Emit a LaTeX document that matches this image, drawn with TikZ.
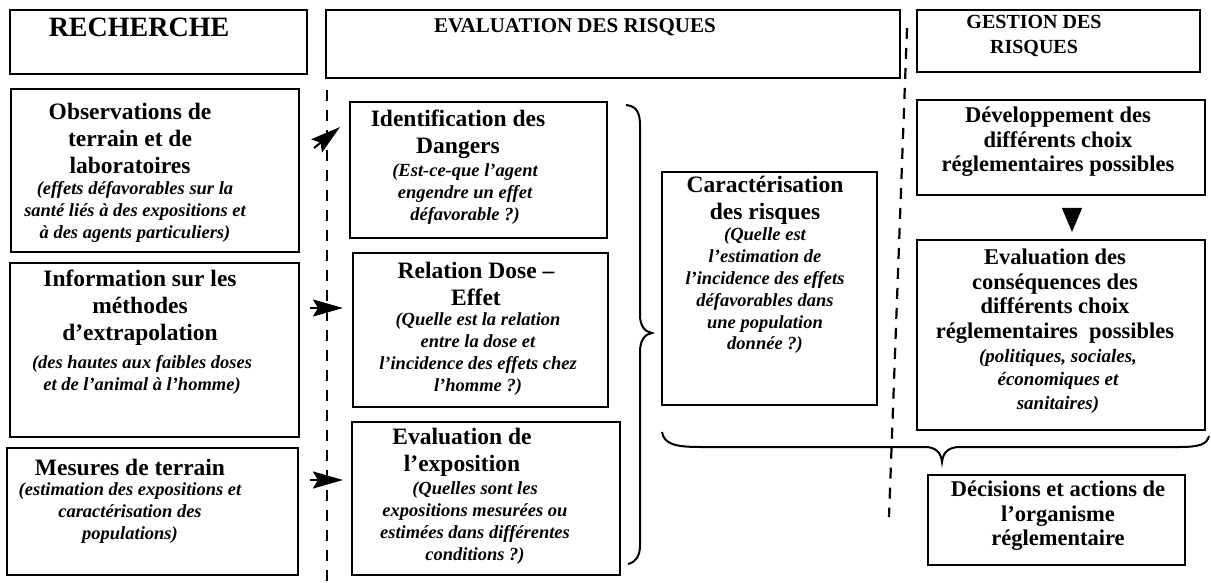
\documentclass[tikz,border=0pt]{standalone}
\usepackage{fontspec}
\setmainfont{Liberation Serif}
\usetikzlibrary{arrows.meta}
\begin{document}
\begin{tikzpicture}[x=1pt,y=-1pt,
  box/.style={draw, line width=2pt, inner sep=0pt},
  ttl/.style={font=\bfseries\fontsize{23.5}{27}\selectfont, align=center, inner sep=0pt},
  ttlr/.style={font=\bfseries\fontsize{22.5}{24.5}\selectfont, align=center, inner sep=0pt},
  note/.style={font=\bfseries\itshape\fontsize{18.5}{21.8}\selectfont, align=center, inner sep=0pt},
  noter/.style={font=\bfseries\itshape\fontsize{19}{23.5}\selectfont, align=center, inner sep=0pt},
  sep/.style={line width=2.2pt, dash pattern=on 11pt off 9pt},
  bracestyle/.style={line width=2pt},
  tipstyle/.style={-{Stealth[length=30pt,width=17pt,inset=5pt]}, line width=2pt},
  tristyle/.style={-{Triangle[length=24pt,width=20pt]}, line width=1pt}]
\useasboundingbox (0,0) rectangle (1211,583);
\fill[white] (0,0) rectangle (1211,583);
% headers
\node[box, minimum width=297pt, minimum height=64pt] (h1) at (158.5,42) {};
\node[box, minimum width=574pt, minimum height=68pt] (h2) at (613,44) {};
\node[box, minimum width=283pt, minimum height=62pt] (h3) at (1058.5,41) {};
\node[font=\bfseries\fontsize{28}{32}\selectfont, inner sep=0pt] (h1t) at (139,27) {RECHERCHE};
\node[font=\bfseries\fontsize{21}{25}\selectfont, inner sep=0pt] (h2t) at (575,27) {EVALUATION DES RISQUES};
\node[font=\bfseries\fontsize{20}{25}\selectfont, align=center, inner sep=0pt] (h3t) at (1034,36) {GESTION DES\\RISQUES};
% left column
\node[box, minimum width=288pt, minimum height=163pt] (b1) at (155,170.5) {};
\node[box, minimum width=289pt, minimum height=174pt] (b2) at (154.5,350) {};
\node[box, minimum width=291pt, minimum height=127pt] (b3) at (152.5,511.5) {};
\node[ttl] (b1t) at (130,138) {Observations de\\terrain et de\\laboratoires};
\node[note] (b1n) at (135,212) {(effets défavorables sur la\\santé liés à des expositions et\\à des agents particuliers)};
\node[ttl] (b2t) at (140,308) {Information sur les\\méthodes\\d’extrapolation};
\node[note] (b2n) at (142,375) {(des hautes aux faibles doses\\et de l’animal à l’homme)};
\node[ttl] (b3t) at (130,467) {Mesures de terrain};
\node[note] (b3n) at (130,513) {(estimation des expositions et\\caractérisation des\\populations)};
% middle column
\node[box, minimum width=257pt, minimum height=136pt] (m1) at (478.5,170) {};
\node[box, minimum width=255pt, minimum height=154pt] (m2) at (480.5,330) {};
\node[box, minimum width=268pt, minimum height=153pt] (m3) at (486,498.5) {};
\node[ttl] (m1t) at (458,134) {Identification des\\Dangers};
\node[note] (m1n) at (465,194) {(Est-ce-que l’agent\\engendre un effet\\défavorable ?)};
\node[ttl] (m2t) at (476,284) {Relation Dose –\\Effet};
\node[note] (m2n) at (478,354) {(Quelle est la relation\\entre la dose et\\l’incidence des effets chez\\l’homme ?)};
\node[ttl] (m3t) at (462,452) {Evaluation de\\l’exposition};
\node[note] (m3n) at (475,523) {(Quelles sont les\\expositions mesurées ou\\estimées dans différentes\\conditions ?)};
% characterisation
\node[box, minimum width=215pt, minimum height=233pt] (c) at (769.5,288.5) {};
\node[ttl] (ct) at (765,200) {Caractérisation\\des risques};
\node[note] (cn) at (765,291) {(Quelle est\\l’estimation de\\l’incidence des effets\\défavorables dans\\une population\\donnée ?)};
% right column
\node[box, minimum width=288pt, minimum height=95pt] (r1) at (1061,147.5) {};
\node[box, minimum width=288pt, minimum height=190pt] (r2) at (1061,335) {};
\node[box, minimum width=257pt, minimum height=90pt] (r3) at (1056.5,520) {};
\node[ttlr] (r1t) at (1058,142) {Développement des\\différents choix\\réglementaires possibles};
\node[ttlr] (r2t) at (1055,296) {Evaluation des\\conséquences des\\différents choix\\réglementaires\ \ possibles};
\node[noter] (r2n) at (1058,381) {(politiques, sociales,\\économiques et\\sanitaires)};
\node[ttlr] (r3t) at (1058,516) {Décisions et actions de\\l’organisme\\réglementaire};
% dashed separators
\coordinate (dl1) at (327,90);
\coordinate (dl2) at (327,583);
\coordinate (dr1) at (907,28);
\coordinate (dr2) at (889,517);
\draw[sep] (dl1) -- (dl2);
\draw[sep] (dr1) -- (dr2);
% arrow heads
\coordinate (a1s) at (314,148);
\coordinate (a1e) at (340,127);
\coordinate (a2s) at (310,308);
\coordinate (a2e) at (343,308);
\coordinate (a3s) at (310,480);
\coordinate (a3e) at (343,480);
\draw[tipstyle] (a1s) -- (a1e);
\draw[tipstyle] (a2s) -- (a2e);
\draw[tipstyle] (a3s) -- (a3e);
\coordinate (t1) at (1072,208);
\coordinate (t2) at (1072,232);
\draw[tristyle] (t1) -- (t2);
% braces
\draw[bracestyle] (626,105) .. controls (636,106) and (640,112) .. (640,125) -- (640,315)
  .. controls (640,326) and (645,332) .. (652,333)
  .. controls (645,334) and (640,340) .. (640,352) -- (640,545)
  .. controls (640,556) and (636,562) .. (628,564);
\draw[bracestyle] (662,432) .. controls (664,444) and (675,447) .. (700,447) -- (925,447)
  .. controls (935,447) and (941,452) .. (942,462)
  .. controls (943,452) and (949,447) .. (960,447) -- (1180,447)
  .. controls (1200,447) and (1207,444) .. (1209,436);
\end{tikzpicture}
\end{document}
